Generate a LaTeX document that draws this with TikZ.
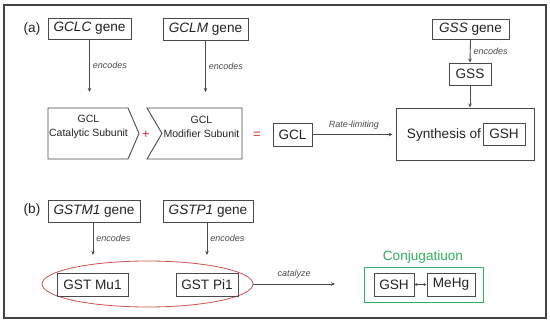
\documentclass[tikz,border=0pt]{standalone}
\usepackage{fontspec}
\setmainfont{Liberation Sans}
\usetikzlibrary{arrows.meta,shapes.geometric}
\definecolor{ln}{HTML}{4A4A4A}
\definecolor{tx}{HTML}{222222}
\definecolor{rd}{HTML}{E02828}
\definecolor{el}{HTML}{D05050}
\definecolor{gr}{HTML}{2DB060}
\tikzset{
  bx/.style={draw=ln, line width=0.9pt, inner sep=0pt, text=tx, font=\fontsize{13.6}{15}\selectfont},
  big/.style={inner sep=0pt, text=tx, font=\fontsize{13.6}{15}\selectfont},
  lbl/.style={inner sep=0pt, text=ln, font=\fontsize{9}{10}\selectfont\itshape},
  arr/.style={draw=ln, line width=0.9pt, -{Stealth[length=4pt,width=3.5pt]}},
  chev/.style={draw=ln, line width=0.9pt},
  sub/.style={inner sep=0pt, text=tx, align=center, font=\fontsize{10.5}{14}\selectfont}
}
\begin{document}
\begin{tikzpicture}[x=1pt,y=-1pt]
\useasboundingbox (0,0) rectangle (550,324);
\draw[line width=1.8pt, draw=ln!90!black] (4,5) rectangle (546,318);

% panel (a)
\node[big] (la) at (32,29) {(a)};
\node[bx, minimum width=83, minimum height=21] (gclc) at (89.5,28.5) {\textit{GCLC} gene};
\node[bx, minimum width=85, minimum height=22] (gclm) at (205.5,29) {\textit{GCLM} gene};
\node[bx, minimum width=77, minimum height=20] (gssg) at (470.5,29) {\textit{GSS} gene};
\node[bx, minimum width=42, minimum height=22] (gss) at (470,74) {GSS};

\draw[chev] (48,108) -- (128,108) -- (139,133.5) -- (128,159) -- (48,159) -- cycle;
\draw[chev] (147,108) -- (242,108) -- (242,159) -- (147,159) -- (162,133.5) -- cycle;
\node[sub] (c1) at (88.5,127) {GCL\\Catalytic Subunit};
\node[sub] (c2) at (201.5,127) {GCL\\Modifier Subunit};
\coordinate (c1t) at (89.5,92);
\coordinate (c2t) at (205.5,92);
\node[inner sep=0pt, text=rd, font=\fontsize{13}{14}\selectfont] (plus) at (146,135) {+};
\node[inner sep=0pt, text=rd, font=\fontsize{13}{14}\selectfont] (eq) at (257,135) {=};

\node[bx, minimum width=39, minimum height=23] (gcl) at (292.5,134.5) {GCL};
\node[bx, minimum width=138, minimum height=52] (syn) at (465,134) {};
\node[big] (syt) at (444,135) {Synthesis of};
\node[bx, minimum width=42, minimum height=22] (gsh) at (504,134) {GSH};

\draw[arr] (gclc.south) -- node[lbl, right=3pt, pos=0.5] {encodes} (c1t);
\draw[arr] (gclm.south) -- node[lbl, right=3pt, pos=0.5] {encodes} (c2t);
\draw[arr] (gssg.south) -- node[lbl, right=3pt, pos=0.5] {encodes} (gss.north);
\draw[arr] (gss.south) -- (gss.south |- syn.north);
\draw[arr, shorten >=3pt] (gcl.east) -- node[lbl, above=5pt] {Rate-limiting} (gcl.east -| syn.west);

% panel (b)
\node[big] (lb) at (32,210) {(b)};
\node[bx, minimum width=92, minimum height=22] (gstm) at (94,211) {\textit{GSTM1} gene};
\node[bx, minimum width=90, minimum height=22] (gstp) at (208,211) {\textit{GSTP1} gene};
\coordinate (mt) at (93,255);
\coordinate (pt) at (207,255);
\draw[arr] (gstm.south -| mt) -- node[lbl, right=3pt] {encodes} (mt);
\draw[arr] (gstp.south -| pt) -- node[lbl, right=3pt] {encodes} (pt);

\node[draw=el, line width=0.8pt, ellipse, minimum width=211, minimum height=46, inner sep=0pt] (ell) at (147.5,284) {};
\node[bx, minimum width=71, minimum height=23] (mu) at (92.5,284.5) {GST Mu1};
\node[bx, minimum width=62, minimum height=23] (pi) at (207,284.5) {GST Pi1};
\coordinate (ce) at (335,284);
\draw[arr] (ell.east) -- node[lbl, above=5pt] {catalyze} (ce);

\node[inner sep=0pt, text=gr, font=\fontsize{13.6}{15}\selectfont] (conjt) at (423,257) {Conjugatiuon};
\node[bx, minimum width=40, minimum height=23] (gsh2) at (394,284.5) {GSH};
\node[bx, minimum width=48, minimum height=23] (mehg) at (451,284.5) {MeHg};
\draw[draw=gr, line width=0.9pt] (364,267) rectangle (483,302);
\node[inner sep=0pt, minimum width=119, minimum height=35] (conj) at (423.5,284.5) {};
\draw[draw=ln, line width=0.9pt, {Stealth[length=3pt,width=3pt]}-{Stealth[length=3pt,width=3pt]}] (gsh2.east) -- (mehg.west);
\end{tikzpicture}
\end{document}
